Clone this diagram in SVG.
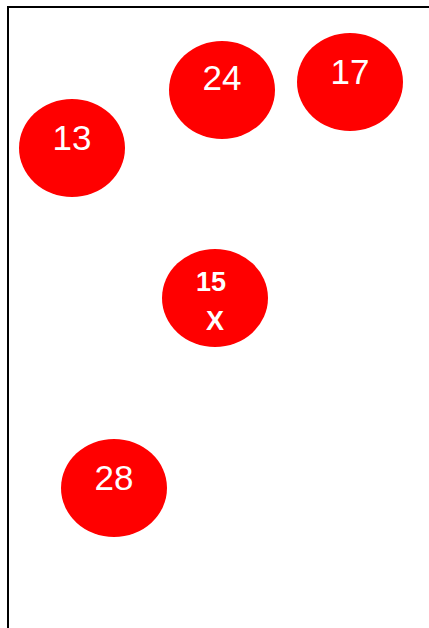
<svg xmlns="http://www.w3.org/2000/svg" width="429" height="628" viewBox="0 0 429 628">
<style>
.n{fill:#ff0000}
.t{fill:#ffffff;font-family:"Liberation Sans",Arial,sans-serif;font-size:35px;text-anchor:middle}
.b{fill:#ffffff;font-family:"Liberation Sans",Arial,sans-serif;font-size:27px;font-weight:bold;text-anchor:middle}
</style>
<rect x="0" y="0" width="429" height="628" fill="#ffffff"/>
<path d="M8 628 V7 H429" fill="none" stroke="#000000" stroke-width="2"/>
<g id="connectors"></g>
<g id="n13"><ellipse class="n" cx="72" cy="148" rx="53" ry="49"/><text class="t" x="72" y="150">13</text></g>
<g id="n24"><ellipse class="n" cx="222" cy="90" rx="53" ry="49"/><text class="t" x="222" y="90">24</text></g>
<g id="n17"><ellipse class="n" cx="350" cy="82" rx="53" ry="49"/><text class="t" x="350" y="84">17</text></g>
<g id="n15"><ellipse class="n" cx="215" cy="298" rx="53" ry="49"/><text class="b" x="211" y="291">15</text><text class="b" x="215" y="329.5">X</text></g>
<g id="n28"><ellipse class="n" cx="114" cy="488" rx="53" ry="49"/><text class="t" x="114" y="490">28</text></g>
</svg>
